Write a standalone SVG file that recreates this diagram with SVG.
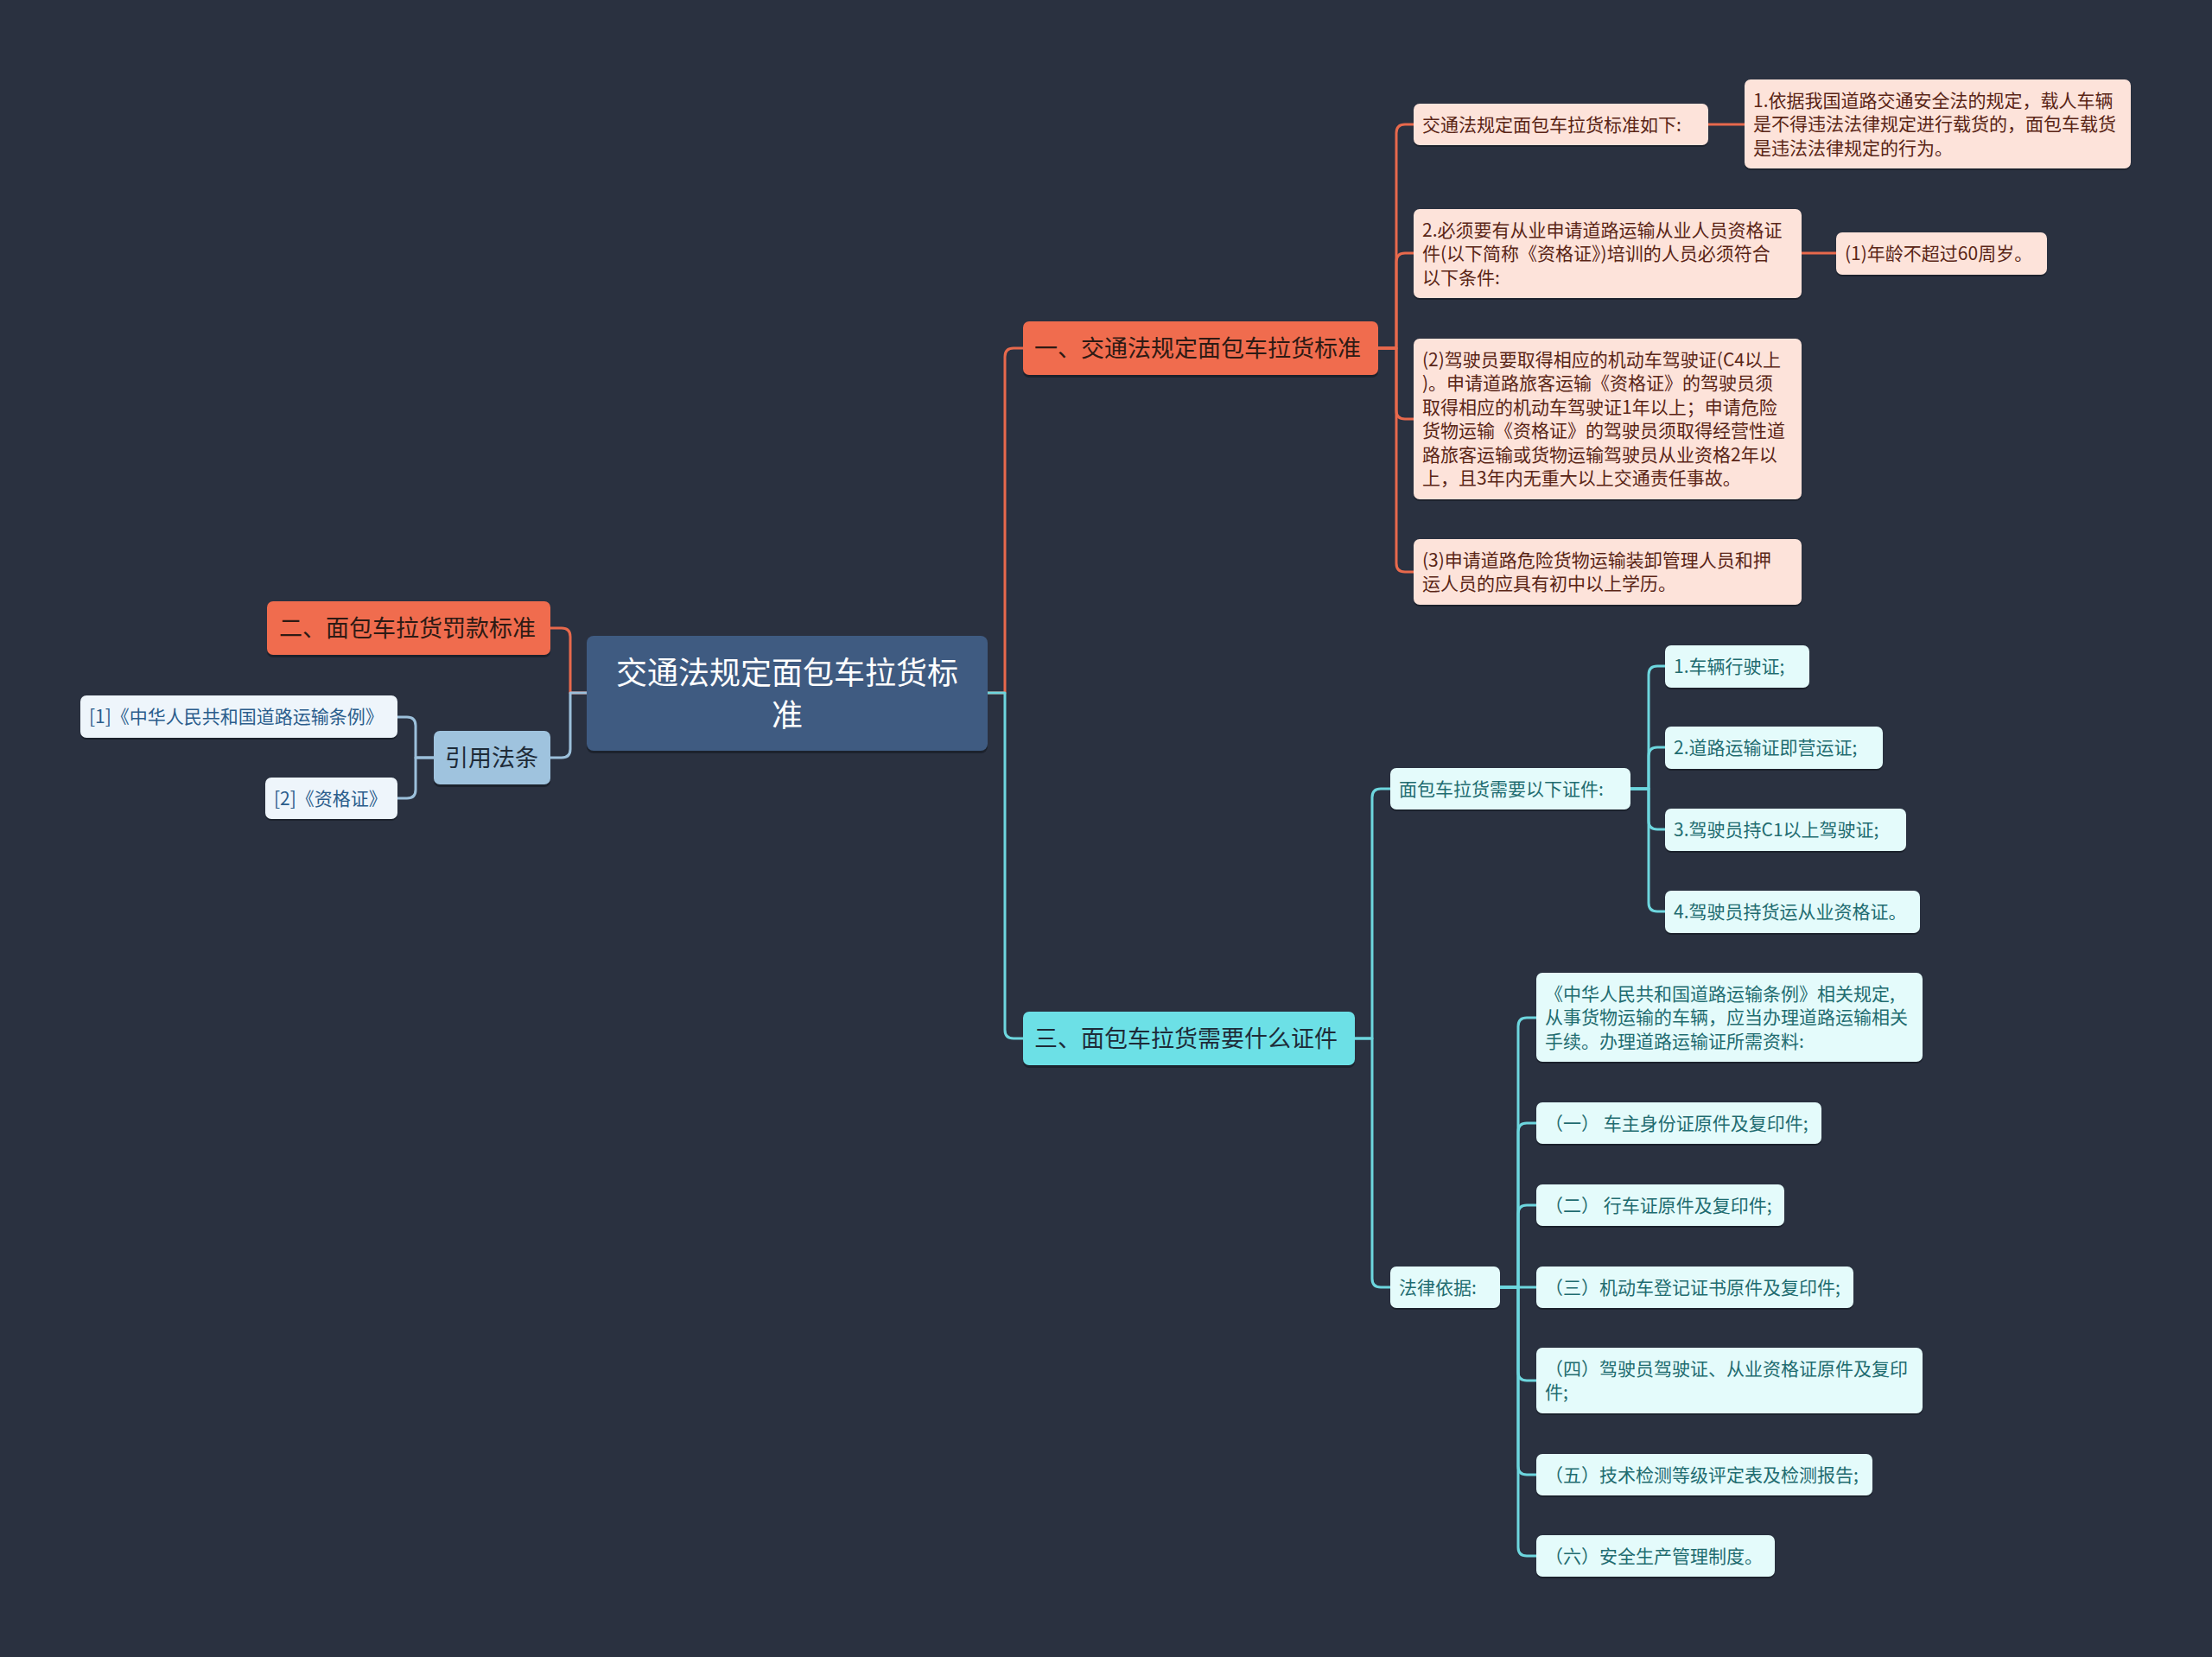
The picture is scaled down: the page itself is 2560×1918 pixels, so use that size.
<svg xmlns="http://www.w3.org/2000/svg" width="2560" height="1918" viewBox="0 0 2560 1918">
<defs>
<style>
text{font-family:"Noto Sans CJK SC","Noto Sans",sans-serif;}
.c{fill:none;stroke-width:3;stroke-linecap:round;stroke-linejoin:round}
.co{stroke:#e8694c}.cy{stroke:#6dd6de}.cb{stroke:#9cc0db}
.sh{fill:#1c222d}
.root{fill:#3f5b81}.rt{fill:#ffffff;font-size:36px}
.or{fill:#f06c4e}.ot{fill:#2e1a14;font-size:27px}
.ol{fill:#fde3da}.olt{fill:#5a2516;font-size:21px}
.cn{fill:#6ce0e6}.cnt{fill:#1e2b38;font-size:27px}
.cl{fill:#e4fbfb}.clt{fill:#1f6c70;font-size:21px}
.bn{fill:#9fc3de}.bnt{fill:#1e2b38;font-size:27px}
.bl{fill:#eef5fb}.blt{fill:#2b5d8c;font-size:21px}
</style>
</defs>
<rect width="2560" height="1918" fill="#2a3140"/>
<g id="connectors">
<path class="c co" d="M1143,802 H1163 V413 Q1163,403 1173,403 H1184"/>
<path class="c cy" d="M1143,802 H1163 V1192 Q1163,1202 1173,1202 H1184"/>
<path class="c co" d="M679,802 H660 V737 Q660,727 650,727 H637"/>
<path class="c cb" d="M679,802 H660 V867 Q660,877 650,877 H637"/>
<path class="c cb" d="M502,877 H481 V840 Q481,830 471,830 H460"/>
<path class="c cb" d="M502,877 H481 V914 Q481,924 471,924 H460"/>
<path class="c co" d="M1595,403 H1616 V154 Q1616,144 1626,144 H1636"/>
<path class="c co" d="M1595,403 H1616 V303 Q1616,293 1626,293 H1636"/>
<path class="c co" d="M1595,403 H1616 V475 Q1616,485 1626,485 H1636"/>
<path class="c co" d="M1595,403 H1616 V652 Q1616,662 1626,662 H1636"/>
<path class="c co" d="M1977,144 H2019"/>
<path class="c co" d="M2085,293 H2125"/>
<path class="c cy" d="M1568,1202 H1588 V923 Q1588,913 1598,913 H1609"/>
<path class="c cy" d="M1568,1202 H1588 V1480 Q1588,1490 1598,1490 H1609"/>
<path class="c cy" d="M1887,913 H1908 V781 Q1908,771 1918,771 H1927"/>
<path class="c cy" d="M1887,913 H1908 V875 Q1908,865 1918,865 H1927"/>
<path class="c cy" d="M1887,913 H1908 V950 Q1908,960 1918,960 H1927"/>
<path class="c cy" d="M1887,913 H1908 V1045 Q1908,1055 1918,1055 H1927"/>
<path class="c cy" d="M1736,1490 H1757 V1188 Q1757,1178 1767,1178 H1778"/>
<path class="c cy" d="M1736,1490 H1757 V1310 Q1757,1300 1767,1300 H1778"/>
<path class="c cy" d="M1736,1490 H1757 V1405 Q1757,1395 1767,1395 H1778"/>
<path class="c cy" d="M1736,1490 H1778"/>
<path class="c cy" d="M1736,1490 H1757 V1588 Q1757,1598 1767,1598 H1778"/>
<path class="c cy" d="M1736,1490 H1757 V1697 Q1757,1707 1767,1707 H1778"/>
<path class="c cy" d="M1736,1490 H1757 V1791 Q1757,1801 1767,1801 H1778"/>
</g>
<g id="root"><rect class="sh" x="679" y="739" width="464" height="133" rx="8"/><rect class="root" x="679" y="736" width="464" height="133" rx="8"/><text class="rt" x="911" y="791.5" text-anchor="middle">交通法规定面包车拉货标</text><text class="rt" x="911" y="840.5" text-anchor="middle">准</text></g>
<g id="n1"><rect class="sh" x="1184" y="375" width="411" height="62" rx="7"/><rect class="or" x="1184" y="372" width="411" height="62" rx="7"/><text class="ot" x="1197" y="412.5">一、交通法规定面包车拉货标准</text></g>
<g id="n2"><rect class="sh" x="309" y="699" width="328" height="62" rx="7"/><rect class="or" x="309" y="696" width="328" height="62" rx="7"/><text class="ot" x="323" y="736.5">二、面包车拉货罚款标准</text></g>
<g id="n3"><rect class="sh" x="502" y="849" width="135" height="62" rx="7"/><rect class="bn" x="502" y="846" width="135" height="62" rx="7"/><text class="bnt" x="515" y="886.5">引用法条</text></g>
<g id="n3a"><rect class="sh" x="93" y="807" width="367" height="49" rx="7"/><rect class="bl" x="93" y="805" width="367" height="49" rx="7"/><text class="blt" x="103" y="837">[1]《中华人民共和国道路运输条例》</text></g>
<g id="n3b"><rect class="sh" x="307" y="902" width="153" height="48" rx="7"/><rect class="bl" x="307" y="900" width="153" height="48" rx="7"/><text class="blt" x="317" y="931.5">[2]《资格证》</text></g>
<g id="n4"><rect class="sh" x="1184" y="1174" width="384" height="62" rx="7"/><rect class="cn" x="1184" y="1171" width="384" height="62" rx="7"/><text class="cnt" x="1197" y="1211.5">三、面包车拉货需要什么证件</text></g>
<g id="n1a"><rect class="sh" x="1636" y="122" width="341" height="48" rx="7"/><rect class="ol" x="1636" y="120" width="341" height="48" rx="7"/><text class="olt" x="1646" y="151.5">交通法规定面包车拉货标准如下:</text></g>
<g id="n1a1"><rect class="sh" x="2019" y="94" width="447" height="103" rx="7"/><rect class="ol" x="2019" y="92" width="447" height="103" rx="7"/><text class="olt" x="2029" y="123.5">1.依据我国道路交通安全法的规定，载人车辆</text><text class="olt" x="2029" y="151">是不得违法法律规定进行载货的，面包车载货</text><text class="olt" x="2029" y="178.5">是违法法律规定的行为。</text></g>
<g id="n1b"><rect class="sh" x="1636" y="244" width="449" height="103" rx="7"/><rect class="ol" x="1636" y="242" width="449" height="103" rx="7"/><text class="olt" x="1646" y="273.5">2.必须要有从业申请道路运输从业人员资格证</text><text class="olt" x="1646" y="301">件(以下简称《资格证》)培训的人员必须符合</text><text class="olt" x="1646" y="328.5">以下条件:</text></g>
<g id="n1b1"><rect class="sh" x="2125" y="271" width="244" height="49" rx="7"/><rect class="ol" x="2125" y="269" width="244" height="49" rx="7"/><text class="olt" x="2135" y="301">(1)年龄不超过60周岁。</text></g>
<g id="n1c"><rect class="sh" x="1636" y="394" width="449" height="186" rx="7"/><rect class="ol" x="1636" y="392" width="449" height="186" rx="7"/><text class="olt" x="1646" y="423.75">(2)驾驶员要取得相应的机动车驾驶证(C4以上</text><text class="olt" x="1646" y="451.25">)。申请道路旅客运输《资格证》的驾驶员须</text><text class="olt" x="1646" y="478.75">取得相应的机动车驾驶证1年以上；申请危险</text><text class="olt" x="1646" y="506.25">货物运输《资格证》的驾驶员须取得经营性道</text><text class="olt" x="1646" y="533.75">路旅客运输或货物运输驾驶员从业资格2年以</text><text class="olt" x="1646" y="561.25">上，且3年内无重大以上交通责任事故。</text></g>
<g id="n1d"><rect class="sh" x="1636" y="626" width="449" height="76" rx="7"/><rect class="ol" x="1636" y="624" width="449" height="76" rx="7"/><text class="olt" x="1646" y="655.75">(3)申请道路危险货物运输装卸管理人员和押</text><text class="olt" x="1646" y="683.25">运人员的应具有初中以上学历。</text></g>
<g id="n4a"><rect class="sh" x="1609" y="891" width="278" height="48" rx="7"/><rect class="cl" x="1609" y="889" width="278" height="48" rx="7"/><text class="clt" x="1619" y="920.5">面包车拉货需要以下证件:</text></g>
<g id="n4a1"><rect class="sh" x="1927" y="749" width="167" height="49" rx="7"/><rect class="cl" x="1927" y="747" width="167" height="49" rx="7"/><text class="clt" x="1937" y="779">1.车辆行驶证;</text></g>
<g id="n4a2"><rect class="sh" x="1927" y="843" width="252" height="49" rx="7"/><rect class="cl" x="1927" y="841" width="252" height="49" rx="7"/><text class="clt" x="1937" y="873">2.道路运输证即营运证;</text></g>
<g id="n4a3"><rect class="sh" x="1927" y="938" width="279" height="49" rx="7"/><rect class="cl" x="1927" y="936" width="279" height="49" rx="7"/><text class="clt" x="1937" y="968">3.驾驶员持C1以上驾驶证;</text></g>
<g id="n4a4"><rect class="sh" x="1927" y="1033" width="295" height="49" rx="7"/><rect class="cl" x="1927" y="1031" width="295" height="49" rx="7"/><text class="clt" x="1937" y="1063">4.驾驶员持货运从业资格证。</text></g>
<g id="n4b"><rect class="sh" x="1609" y="1468" width="127" height="48" rx="7"/><rect class="cl" x="1609" y="1466" width="127" height="48" rx="7"/><text class="clt" x="1619" y="1497.5">法律依据:</text></g>
<g id="n4b1"><rect class="sh" x="1778" y="1128" width="447" height="103" rx="7"/><rect class="cl" x="1778" y="1126" width="447" height="103" rx="7"/><text class="clt" x="1788" y="1157.5">《中华人民共和国道路运输条例》相关规定,</text><text class="clt" x="1788" y="1185">从事货物运输的车辆，应当办理道路运输相关</text><text class="clt" x="1788" y="1212.5">手续。办理道路运输证所需资料:</text></g>
<g id="n4b2"><rect class="sh" x="1778" y="1278" width="330" height="48" rx="7"/><rect class="cl" x="1778" y="1276" width="330" height="48" rx="7"/><text class="clt" x="1788" y="1307.5">（一） 车主身份证原件及复印件;</text></g>
<g id="n4b3"><rect class="sh" x="1778" y="1373" width="287" height="48" rx="7"/><rect class="cl" x="1778" y="1371" width="287" height="48" rx="7"/><text class="clt" x="1788" y="1402.5">（二） 行车证原件及复印件;</text></g>
<g id="n4b4"><rect class="sh" x="1778" y="1468" width="367" height="48" rx="7"/><rect class="cl" x="1778" y="1466" width="367" height="48" rx="7"/><text class="clt" x="1788" y="1497.5">（三）机动车登记证书原件及复印件;</text></g>
<g id="n4b5"><rect class="sh" x="1778" y="1562" width="447" height="76" rx="7"/><rect class="cl" x="1778" y="1560" width="447" height="76" rx="7"/><text class="clt" x="1788" y="1591.75">（四）驾驶员驾驶证、从业资格证原件及复印</text><text class="clt" x="1788" y="1619.25">件;</text></g>
<g id="n4b6"><rect class="sh" x="1778" y="1685" width="389" height="48" rx="7"/><rect class="cl" x="1778" y="1683" width="389" height="48" rx="7"/><text class="clt" x="1788" y="1714.5">（五）技术检测等级评定表及检测报告;</text></g>
<g id="n4b7"><rect class="sh" x="1778" y="1779" width="276" height="48" rx="7"/><rect class="cl" x="1778" y="1777" width="276" height="48" rx="7"/><text class="clt" x="1788" y="1808.5">（六）安全生产管理制度。</text></g>
</svg>
